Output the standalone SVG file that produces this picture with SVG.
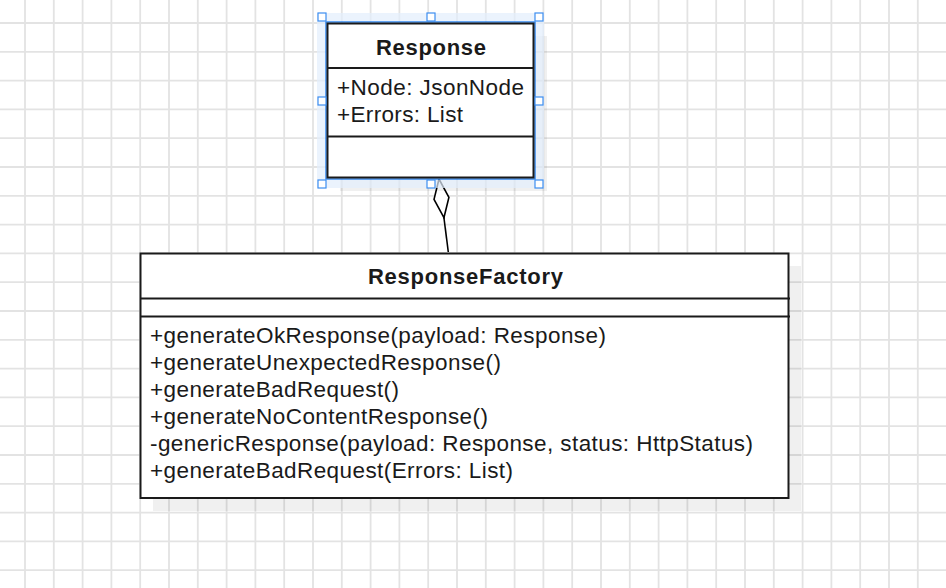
<svg xmlns="http://www.w3.org/2000/svg" width="946" height="588" viewBox="0 0 946 588">
<style>
.grid{stroke:#e3e3e3;stroke-width:1.8;fill:none}
.box{fill:#fff;stroke:#1a1a1a;stroke-width:2}
.div{stroke:#1a1a1a;stroke-width:2}
.t{font-family:"Liberation Sans",Arial,sans-serif;font-size:22.5px;fill:#1a1a1a}
.b{font-weight:bold;text-anchor:middle;font-size:22px}
.h{fill:#fff;stroke:#3d8ef0;stroke-width:1.2}
.shadow{fill:#000;fill-opacity:0.06}
.edge{stroke:#000;stroke-width:1.6;fill:none}
</style>
<defs>
<marker id="diamond" markerUnits="userSpaceOnUse" markerWidth="42" markerHeight="18" refX="40" refY="8.5" orient="auto" viewBox="0 0 42 18">
<path d="M1,8.5 L20.5,1 L40,8.5 L20.5,16 Z" fill="#fff" stroke="#000" stroke-width="1.6"/>
</marker>
</defs>
<rect width="946" height="588" fill="#fff"/>
<path class="grid" d="M25,0V588M53.8,0V588M82.6,0V588M111.4,0V588M140.2,0V588M169,0V588M197.8,0V588M226.6,0V588M255.4,0V588M284.2,0V588M313,0V588M341.8,0V588M370.6,0V588M399.4,0V588M428.2,0V588M457,0V588M485.8,0V588M514.6,0V588M543.4,0V588M572.2,0V588M601,0V588M629.8,0V588M658.6,0V588M687.4,0V588M716.2,0V588M745,0V588M773.8,0V588M802.6,0V588M831.4,0V588M860.2,0V588M889,0V588M917.8,0V588M0,23H946M0,51.8H946M0,80.6H946M0,109.4H946M0,138.2H946M0,167H946M0,195.8H946M0,224.6H946M0,253.4H946M0,282.2H946M0,311H946M0,339.8H946M0,368.6H946M0,397.4H946M0,426.2H946M0,455H946M0,483.8H946M0,512.6H946M0,541.4H946M0,570.2H946"/>

<g id="edges">
<line class="edge" x1="448.3" y1="252" x2="439" y2="179" marker-end="url(#diamond)"/>
</g>

<g id="ResponseFactory">
<rect class="shadow" x="153" y="266" width="648" height="245"/>
<rect class="box" x="140.5" y="253.5" width="648" height="244.5"/>
<line class="div" x1="140" y1="298.5" x2="790" y2="298.5"/>
<line class="div" x1="140" y1="316.5" x2="790" y2="316.5"/>
<text class="t b" x="465.5" y="283.5" textLength="195" lengthAdjust="spacing">ResponseFactory</text>
<text class="t" x="150" y="343" textLength="456" lengthAdjust="spacing">+generateOkResponse(payload: Response)</text>
<text class="t" x="150" y="370" textLength="351" lengthAdjust="spacing">+generateUnexpectedResponse()</text>
<text class="t" x="150" y="397" textLength="249" lengthAdjust="spacing">+generateBadRequest()</text>
<text class="t" x="150" y="424" textLength="338" lengthAdjust="spacing">+generateNoContentResponse()</text>
<text class="t" x="150" y="451" textLength="603" lengthAdjust="spacing">-genericResponse(payload: Response, status: HttpStatus)</text>
<text class="t" x="150" y="478" textLength="363" lengthAdjust="spacing">+generateBadRequest(Errors: List)</text>
</g>

<g id="Response">
<rect class="shadow" x="340" y="36" width="207" height="155" fill-opacity="0.03"/>
<rect x="321" y="17" width="219" height="167" fill="none" stroke="#e3eefc" stroke-width="8" stroke-opacity="0.7"/>
<rect x="326" y="22" width="209" height="157" fill="#fff" stroke="#3d8ef0" stroke-width="1.6"/>
<rect class="box" x="327.5" y="23.5" width="206" height="154"/>
<line class="div" x1="327" y1="68" x2="534" y2="68"/>
<line class="div" x1="327" y1="136.5" x2="534" y2="136.5"/>
<text class="t b" x="431" y="54.5" textLength="110" lengthAdjust="spacing">Response</text>
<text class="t" x="337" y="95" textLength="187" lengthAdjust="spacing">+Node: JsonNode</text>
<text class="t" x="337" y="122" textLength="126" lengthAdjust="spacing">+Errors: List</text>
<rect class="h" x="318" y="13" width="8" height="8"/>
<rect class="h" x="427" y="13" width="8" height="8"/>
<rect class="h" x="535" y="13" width="8" height="8"/>
<rect class="h" x="318" y="97" width="8" height="8"/>
<rect class="h" x="535" y="97" width="8" height="8"/>
<rect class="h" x="318" y="180" width="8" height="8"/>
<rect class="h" x="427" y="180" width="8" height="8"/>
<rect class="h" x="535" y="180" width="8" height="8"/>
</g>
</svg>
